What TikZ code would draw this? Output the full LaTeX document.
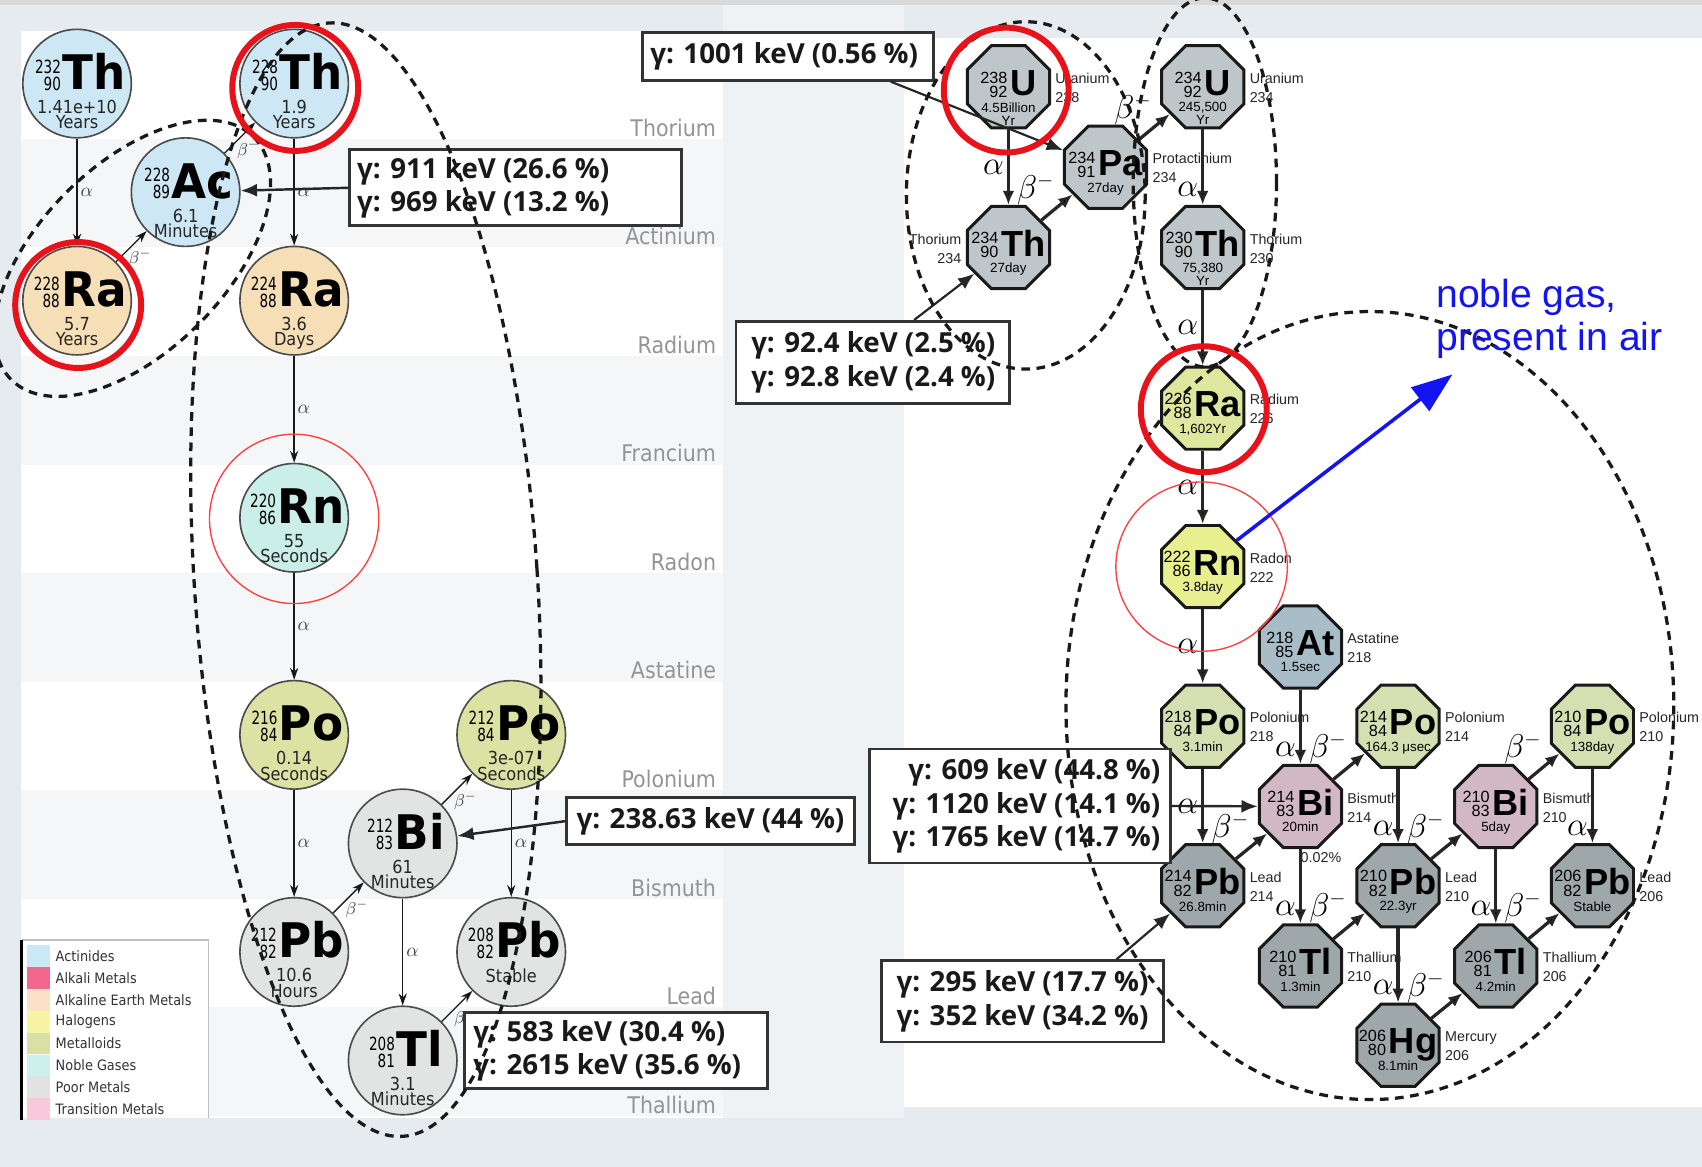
\documentclass[tikz,border=0pt]{standalone}
\usepackage{fontspec}
\usetikzlibrary{shapes.geometric,arrows.meta,calc}

\newfontfamily\chfont[FakeStretch=0.9]{DejaVu Sans}
\newfontfamily\cmfont[FakeStretch=0.75]{DejaVu Sans}
\newfontfamily\csfont[FakeStretch=0.95]{DejaVu Sans}
\newfontfamily\rfont{Liberation Sans}
\newfontfamily\gfont{Open Sans}

\definecolor{slidebg}{HTML}{E6EBEF}
\definecolor{midbg}{HTML}{EEF2F5}
\definecolor{topgray}{HTML}{D9D9D9}
\definecolor{bandgray}{HTML}{F5F6F7}
\definecolor{blueink}{HTML}{1414F0}
\definecolor{redink}{HTML}{E8121A}
% legend swatches
\definecolor{cAct}{HTML}{CBE8F6}
\definecolor{cAlk}{HTML}{F2678E}
\definecolor{cAlkE}{HTML}{FBE2C6}
\definecolor{cHal}{HTML}{F7F5A3}
\definecolor{cMet}{HTML}{D8E0A6}
\definecolor{cNob}{HTML}{CCF1EC}
\definecolor{cPoor}{HTML}{E1E2E2}
\definecolor{cTrans}{HTML}{F8C9DA}
% thorium chart fills
\definecolor{lAct}{HTML}{CDE8F4}
\definecolor{lRa}{HTML}{F6DFB6}
\definecolor{lRn}{HTML}{C9EFE8}
\definecolor{lPo}{HTML}{DCE2A4}
\definecolor{lPoor}{HTML}{E2E3E3}
% uranium chart fills
\definecolor{octU}{HTML}{BFC6C9}
\definecolor{octRa}{HTML}{DDE79D}
\definecolor{octRn}{HTML}{E7EF8E}
\definecolor{octAt}{HTML}{A9BDC8}
\definecolor{octPo}{HTML}{D6DFB1}
\definecolor{octBi}{HTML}{D2B8C3}
\definecolor{octPb}{HTML}{9EA7AA}

\newcommand{\lmassfont}{\cmfont\fontsize{9.5}{9.5}\selectfont}
\newcommand{\lsymfont}{\csfont\bfseries\fontsize{25}{25}\selectfont}
\newcommand{\rmassfont}{\rfont\fontsize{8.5}{8.5}\selectfont}
\newcommand{\rsymfont}{\rfont\bfseries\fontsize{19}{19}\selectfont}
\newcommand{\tightlines}{\lineskiplimit-20pt\relax}

\newcommand{\lstk}[2]{\raisebox{-0.3pt}{\vbox{\baselineskip8.9pt\tightlines\halign{\hfil##\cr#1\cr#2\cr}}}}
\newcommand{\rstk}[2]{\raisebox{-0.85pt}{\vbox{\baselineskip7.4pt\tightlines\halign{\hfil##\cr#1\cr#2\cr}}}}

% name, position, fill, mass, Z, symbol, half-life
\newcommand{\circnode}[7]{%
  \node[circ, fill=#3] (#1) at (#2) {};
  \node[ccore] (#1-c) at ([shift={(3,5.5)}]#1.center) {{\lmassfont\lstk{#4}{#5}}\hspace{0.8pt}{\lsymfont #6}};
  \node[chalf] (#1-t) at ([shift={(0,15)}]#1.center) {#7};
}
% name, position, fill, mass, Z, symbol, half-life, label, label side
\newcommand{\octnode}[9]{%
  \node[octa, fill=#3] (#1) at (#2) {};
  \node[ocore] (#1-c) at ([shift={(0,8)}]#1.center) {{\rmassfont\rstk{#4}{#5}}\hspace{1.5pt}{\rsymfont #6}};
  \node[ohalf] (#1-t) at ([shift={(0,14)}]#1.center) {#7};
  \node[olab, #9] (#1-n) at ([shift={(0,1)}]#1.center) {#8};
}

\begin{document}
\begin{tikzpicture}[x=0.2mm, y=-0.2mm,
  circ/.style={circle, draw=black!70, line width=0.3mm, minimum size=20mm, inner sep=0pt},
  ccore/.style={anchor=base, inner sep=0pt},
  chalf/.style={anchor=north, inner sep=0pt, align=center, text=black!85, font={\chfont\fontsize{9.4}{8}\selectfont\tightlines}},
  octa/.style={regular polygon, regular polygon sides=8, draw=black!90, line width=0.55mm, minimum size=16.4mm, inner sep=0pt},
  ocore/.style={anchor=base, inner sep=0pt},
  ohalf/.style={anchor=north, inner sep=0pt, align=center, font={\rfont\fontsize{7}{6.8}\selectfont\tightlines}},
  olab/.style={inner sep=0pt, text=black!85, font={\rfont\fontsize{7.5}{10}\selectfont}},
  labE/.style={anchor=west, align=left, xshift=8.6mm},
  labW/.style={anchor=east, align=right, xshift=-8.6mm},
  larr/.style={draw=black!90, line width=0.25mm, -{Stealth[length=2.2mm,width=1.5mm]}},
  lalpha/.style={anchor=west, inner sep=1.5pt, text=black!75, font={\fontsize{10}{10}\selectfont}},
  lbeta/.style={anchor=north west, xshift=-1mm, inner sep=1pt, text=black!75, font={\fontsize{9}{9}\selectfont}},
  rarr/.style={draw=black!85, line width=0.6mm, -{Latex[length=2.6mm,width=2.2mm]}},
  ralpha/.style={anchor=east, inner sep=1.5pt, font={\fontsize{17}{17}\selectfont}},
  rbeta/.style={anchor=south east, inner sep=0.5pt, font={\fontsize{16}{16}\selectfont}},
  gbox/.style={draw=black!80, line width=0.5mm, fill=white, inner sep=0pt},
  gtext/.style={inner sep=0pt, align=left, text=black!90, font={\gfont\bfseries\fontsize{14.5}{17.6}\selectfont}},
  garr/.style={draw=black!85, line width=0.45mm, -{Latex[length=3mm,width=2.4mm]}},
  dashring/.style={draw=black!90, line width=0.6mm, dash pattern=on 1.6mm off 1.2mm},
  redring/.style={draw=redink, line width=1.1mm},
  thinring/.style={draw=red!75, line width=0.25mm},
  plab/.style={anchor=base east, inner sep=0pt, text=black!42, font={\chfont\fontsize{12}{12}\selectfont}},
  legtext/.style={anchor=west, inner sep=0pt, text=black!80, font={\chfont\fontsize{7.5}{7.5}\selectfont}},
  bluetxt/.style={anchor=base west, inner sep=0pt, text=blueink, font={\rfont\fontsize{20.5}{20.5}\selectfont}},
  bluearr/.style={draw=blueink, line width=0.65mm, -{Triangle[length=7.5mm,width=5.4mm]}}]

  \useasboundingbox (0,0) rectangle (1568,1075);
  \fill[slidebg] (0,0) rectangle (1568,1075);
  \fill[topgray] (0,0) rectangle (1568,5);
  \fill[midbg] (666,5) rectangle (833,1030);
  \fill[white] (19,29) rectangle (666,1030);
  \fill[white] (833,35) rectangle (1568,1020);

  % thorium series chart
  \foreach \j in {1,3,5,7,9}
    \fill[bandgray] (19,{28+100*\j}) rectangle (666,{128+100*\j});
  \foreach \el [count=\j from 0] in {Thorium,Actinium,Radium,Francium,Radon,Astatine,Polonium,Bismuth,Lead,Thallium}
    \node[plab] (per\j) at (660,{125.5+100*\j}) {\el};

  \fill[white] (20,866) rectangle (192,1030);
  \draw[black!25, line width=0.2mm] (20,866) -- (192,866) -- (192,1030);
  \draw[black, line width=0.5mm] (20,866) -- (20,1032);
  \foreach \lc/\lt [count=\k from 0] in {cAct/Actinides,cAlk/Alkali Metals,cAlkE/Alkaline Earth Metals,cHal/Halogens,cMet/Metalloids,cNob/Noble Gases,cPoor/Poor Metals,cTrans/Transition Metals}{
    \fill[\lc] (25,{871+20.1*\k}) rectangle (46,{891+20.1*\k});
    \node[legtext] (leg\k) at (51,{881+20.1*\k}) {\lt};
  }

  \circnode{Th232}{71,77}{lAct}{232}{90}{Th}{1.41e+10\\Years}
  \circnode{Th228}{271,77}{lAct}{228}{90}{Th}{1.9\\Years}
  \circnode{Ac228}{171,177}{lAct}{228}{89}{Ac}{6.1\\Minutes}
  \circnode{Ra228}{71,277}{lRa}{228}{88}{Ra}{5.7\\Years}
  \circnode{Ra224}{271,277}{lRa}{224}{88}{Ra}{3.6\\Days}
  \circnode{Rn220}{271,477}{lRn}{220}{86}{Rn}{55\\Seconds}
  \circnode{Po216}{271,677}{lPo}{216}{84}{Po}{0.14\\Seconds}
  \circnode{Po212}{471,677}{lPo}{212}{84}{Po}{3e-07\\Seconds}
  \circnode{Bi212}{371,777}{lPoor}{212}{83}{Bi}{61\\Minutes}
  \circnode{Pb212}{271,877}{lPoor}{212}{82}{Pb}{10.6\\Hours}
  \circnode{Pb208}{471,877}{lPoor}{208}{82}{Pb}{Stable}
  \circnode{Tl208}{371,977}{lPoor}{208}{81}{Tl}{3.1\\Minutes}

  \path[larr]
    (Th232) edge node[lalpha] {$\alpha$} (Ra228)
    (Ra228) edge node[lbeta] {$\beta^-$} (Ac228)
    (Ac228) edge node[lbeta] {$\beta^-$} (Th228)
    (Th228) edge node[lalpha] {$\alpha$} (Ra224)
    (Ra224) edge node[lalpha] {$\alpha$} (Rn220)
    (Rn220) edge node[lalpha] {$\alpha$} (Po216)
    (Po216) edge node[lalpha] {$\alpha$} (Pb212)
    (Pb212) edge node[lbeta] {$\beta^-$} (Bi212)
    (Bi212) edge node[lbeta] {$\beta^-$} (Po212)
    (Bi212) edge node[lalpha] {$\alpha$} (Tl208)
    (Po212) edge node[lalpha] {$\alpha$} (Pb208)
    (Tl208) edge node[lbeta] {$\beta^-$} (Pb208);

  % uranium series chart
  \octnode{U238}{929,80}{octU}{238}{92}{U}{4.5Billion\\Yr}{Uranium\\238}{labE}
  \octnode{U234}{1108,80}{octU}{234}{92}{U}{245,500\\Yr}{Uranium\\234}{labE}
  \octnode{Pa234}{1018.5,154}{octU}{234}{91}{Pa}{27day}{Protactinium\\234}{labE}
  \octnode{Th234}{929,228}{octU}{234}{90}{Th}{27day}{Thorium\\234}{labW}
  \octnode{Th230}{1108,228}{octU}{230}{90}{Th}{75,380\\Yr}{Thorium\\230}{labE}
  \octnode{Ra226}{1108,376}{octRa}{226}{88}{Ra}{1,602Yr}{Radium\\226}{labE}
  \octnode{Rn222}{1108,522}{octRn}{222}{86}{Rn}{3.8day}{Radon\\222}{labE}
  \octnode{At218}{1198,596}{octAt}{218}{85}{At}{1.5sec}{Astatine\\218}{labE}
  \octnode{Po218}{1108,669}{octPo}{218}{84}{Po}{3.1min}{Polonium\\218}{labE}
  \octnode{Po214}{1288,669}{octPo}{214}{84}{Po}{164.3 μsec}{Polonium\\214}{labE}
  \octnode{Po210}{1467,669}{octPo}{210}{84}{Po}{138day}{Polonium\\210}{labE}
  \octnode{Bi214}{1198,743}{octBi}{214}{83}{Bi}{20min}{Bismuth\\214}{labE}
  \octnode{Bi210}{1378,743}{octBi}{210}{83}{Bi}{5day}{Bismuth\\210}{labE}
  \octnode{Pb214}{1108,816}{octPb}{214}{82}{Pb}{26.8min}{Lead\\214}{labE}
  \octnode{Pb210}{1288,816}{octPb}{210}{82}{Pb}{22.3yr}{Lead\\210}{labE}
  \octnode{Pb206}{1467,816}{octPb}{206}{82}{Pb}{Stable}{Lead\\206}{labE}
  \octnode{Tl210}{1198,890}{octPb}{210}{81}{Tl}{1.3min}{Thallium\\210}{labE}
  \octnode{Tl206}{1378,890}{octPb}{206}{81}{Tl}{4.2min}{Thallium\\206}{labE}
  \octnode{Hg206}{1288,963}{octPb}{206}{80}{Hg}{8.1min}{Mercury\\206}{labE}
  \node[olab, anchor=north] (Bi214-p) at ([shift={(19,42)}]Bi214.center) {0.02\%};

  \path[rarr]
    (U238) edge node[ralpha] {$\alpha$} (Th234)
    (U234) edge node[ralpha, pos=0.8] {$\alpha$} (Th230)
    (Th230) edge node[ralpha] {$\alpha$} (Ra226)
    (Ra226) edge node[ralpha] {$\alpha$} (Rn222)
    (Rn222) edge node[ralpha] {$\alpha$} (Po218)
    (Po218) edge node[ralpha] {$\alpha$} (Pb214)
    (At218) edge node[ralpha, pos=0.8] {$\alpha$} (Bi214)
    (Bi214) edge node[ralpha, pos=0.8] {$\alpha$} (Tl210)
    (Po214) edge node[ralpha, pos=0.8] {$\alpha$} (Pb210)
    (Pb210) edge node[ralpha, pos=0.8] {$\alpha$} (Hg206)
    (Bi210) edge node[ralpha, pos=0.8] {$\alpha$} (Tl206)
    (Po210) edge node[ralpha, pos=0.8] {$\alpha$} (Pb206)
    (Th234) edge node[rbeta] {$\beta^-$} (Pa234)
    (Pa234) edge node[rbeta] {$\beta^-$} (U234)
    (Pb214) edge node[rbeta] {$\beta^-$} (Bi214)
    (Bi214) edge node[rbeta] {$\beta^-$} (Po214)
    (Tl210) edge node[rbeta] {$\beta^-$} (Pb210)
    (Pb210) edge node[rbeta] {$\beta^-$} (Bi210)
    (Bi210) edge node[rbeta] {$\beta^-$} (Po210)
    (Tl206) edge node[rbeta] {$\beta^-$} (Pb206)
    (Hg206) edge node[rbeta] {$\beta^-$} (Tl206);

  % gamma lines
  \node[gbox, minimum width=61.2mm, minimum height=14mm] (B1) at (475,173) {};
  \node[gtext, anchor=west] (B1-t) at ([xshift=1.6mm]B1.west) {γ: 911 keV (26.6 \%)\\γ: 969 keV (13.2 \%)};
  \node[gbox, minimum width=53mm, minimum height=8.6mm] (B2) at (654.5,756.5) {};
  \node[gtext] (B2-t) at (B2.center) {γ: 238.63 keV (44 \%)};
  \node[gbox, minimum width=55.8mm, minimum height=14mm] (B3) at (567.5,968) {};
  \node[gtext, anchor=west] (B3-t) at ([xshift=1.8mm]B3.west) {γ: 583 keV (30.4 \%)\\γ: 2615 keV (35.6 \%)};
  \node[gbox, minimum width=53.6mm, minimum height=8.8mm] (B4) at (726,52) {};
  \node[gtext, anchor=west] (B4-t) at ([xshift=1.6mm]B4.west) {γ: 1001 keV (0.56 \%)};
  \node[gbox, minimum width=50.4mm, minimum height=15.2mm] (B5) at (804,334) {};
  \node[gtext, anchor=west] (B5-t) at ([xshift=3mm]B5.west) {γ: 92.4 keV (2.5 \%)\\γ: 92.8 keV (2.4 \%)};
  \node[gbox, minimum width=55.4mm, minimum height=21mm] (B6) at (939.5,742.5) {};
  \node[gtext, anchor=east, align=right] (B6-t) at ([xshift=-2mm]B6.east) {γ: 609 keV (44.8 \%)\\γ: 1120 keV (14.1 \%)\\γ: 1765 keV (14.7 \%)};
  \node[gbox, minimum width=52mm, minimum height=15mm] (B7) at (942,922.5) {};
  \node[gtext] (B7-t) at (B7.center) {γ: 295 keV (17.7 \%)\\γ: 352 keV (34.2 \%)};

  \draw[garr] (B1.west) -- (Ac228);
  \draw[garr] (B2.west) -- (Bi212);
  \draw[garr, line width=0.4mm] ($(B4.south west)!0.85!(B4.south east)$) -- (Pa234);
  \draw[garr, line width=0.4mm] ($(B5.north west)!0.65!(B5.north east)$) -- (Th234);
  \draw[garr] (B6.east) -- (Bi214);
  \draw[garr, line width=0.4mm] ($(B7.north west)!0.83!(B7.north east)$) -- (Pb214);

  % groups
  \draw[dashring, rotate around={3.8:(337,534)}] (337,534) ellipse [x radius=158, y radius=514];
  \draw[dashring, rotate around={45:(122,238)}] (122,238) ellipse [x radius=158, y radius=86];
  \draw[dashring] (945,180) ellipse [x radius=110, y radius=160];
  \draw[dashring] (1110,168) ellipse [x radius=66, y radius=170];
  \draw[dashring] (1262,650) ellipse [x radius=280, y radius=363];

  \draw[redring] (272,81) circle [radius=58];
  \draw[redring] (72,281) circle [radius=58];
  \draw[redring] (927,83) circle [radius=57.5];
  \draw[redring] (1109,377) circle [radius=58];
  \draw[thinring] (271,478) circle [radius=78];
  \draw[thinring] (1107,522) ellipse [x radius=79, y radius=78];

  \node[bluetxt] (gas1) at (1323,283) {noble gas,};
  \node[bluetxt] (gas2) at (1323,323) {present in air};
  \coordinate (tip) at (1338,345);
  \draw[bluearr] (Rn222) -- (tip);
\end{tikzpicture}
\end{document}
